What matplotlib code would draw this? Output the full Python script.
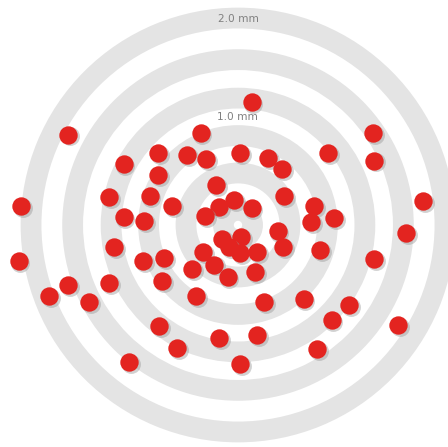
import matplotlib

matplotlib.use("Agg")
import matplotlib.pyplot as plt
import numpy as np
from matplotlib.patches import Wedge

# ring bands (centre radius, mm) and their labels
RING_R = [1.99, 1.59, 1.22, 0.86, 0.50, 0.14]
RING_W = 0.20
LABELS = ["2.0 mm", "1.0 mm"]
LABEL_POS = [(0.0, 1.98), (-0.01, 1.04)]

# hit positions, mm from the centre
HIT_X = [
    0.13, -1.63, -0.36, 1.30, -1.10, -0.77, -0.49, -0.31, 0.02, 0.29,
    0.42, 0.87, 1.31, -0.77, -0.21, -1.24, -0.85, -0.63, -0.18, -0.04,
    0.13, 0.44, 0.73, -2.09, 1.78, -1.10, -0.90, -0.32, 0.38, 0.70,
    0.92, 1.62, -1.19, -0.15, 0.03, -0.09, 0.02, 0.18, 0.43, -0.34,
    -2.11, -0.91, -0.71, -0.44, -0.23, -0.10, 0.16, 0.79, 1.31, -1.63,
    -1.82, -1.43, -1.24, -0.73, -0.40, 0.25, 0.63, 1.07, 0.90, -0.76,
    -0.18, 0.18, 1.54, -0.59, 0.76, -1.05, 0.02,
]
HIT_Y = [
    1.18, 0.87, 0.88, 0.88, 0.59, 0.69, 0.67, 0.63, 0.69, 0.64,
    0.54, 0.69, 0.62, 0.48, 0.38, 0.27, 0.28, 0.18, 0.17, 0.24,
    0.16, 0.28, 0.18, 0.18, 0.23, 0.08, 0.04, 0.09, -0.06, 0.03,
    0.07, -0.08, -0.21, -0.13, -0.12, -0.21, -0.27, -0.26, -0.21, -0.26,
    -0.35, -0.35, -0.32, -0.42, -0.38, -0.50, -0.45, -0.24, -0.33, -0.58,
    -0.68, -0.74, -0.56, -0.54, -0.68, -0.74, -0.71, -0.77, -0.91, -0.97,
    -1.09, -1.06, -0.96, -1.18, -1.19, -1.32, -1.34,
]

RED = "#e32420"
BAND = "#e4e4e4"
PX = 104.0  # pixels per mm

fig = plt.figure(figsize=(4.48, 4.47), dpi=100)
ax = fig.add_axes([0, 0, 1, 1])
ax.set_xlim(-238 / PX, 210 / PX)
ax.set_ylim(-222 / PX, 225 / PX)
ax.set_aspect("equal")
ax.set_axis_off()

for r in RING_R:
    ax.add_patch(
        Wedge((0, 0), r + RING_W / 2, 0, 360, width=RING_W, fc=BAND, ec="none", zorder=1)
    )

for s, (x, y) in zip(LABELS, LABEL_POS):
    ax.text(x, y, s, ha="center", va="center", size=7.6, color="#808080", zorder=2)

hx = np.array(HIT_X)
hy = np.array(HIT_Y)
for i in range(len(hx)):
    # soft shadow, then the dot
    ax.scatter(hx[i] + 0.018, hy[i] - 0.018, s=185, c="#9a9a9a", alpha=0.45,
               lw=0, zorder=3 + 2 * i)
    ax.scatter(hx[i], hy[i], s=175, c=RED, lw=0, zorder=4 + 2 * i)

fig.savefig("out.png", dpi=100)
